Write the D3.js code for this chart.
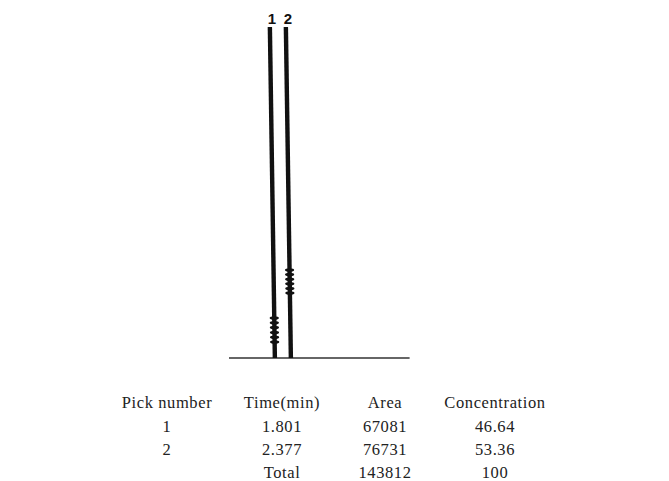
<!DOCTYPE html>
<html><head><meta charset="utf-8">
<script src="https://cdn.jsdelivr.net/npm/d3@7"></script>
<style>body{margin:0;background:#fff}</style>
</head><body>
<svg id="c" width="669" height="481"></svg>
<script>
// Data
const peakLabels = ["1", "2"];
const peakTimes = [1.801, 2.377];          // retention time (min)
const peakHeights = [100, 100];            // off-scale (% full scale)
const markRanges = [[4.8, 12.1], [19.6, 26.6]]; // attenuation marks (% full scale)
const tableHeader = ["Pick number", "Time(min)", "Area", "Concentration"];
const pickNumbers = ["1", "2", ""];
const timeCol = ["1.801", "2.377", "Total"];
const areaCol = ["67081", "76731", "143812"];
const concCol = ["46.64", "53.36", "100"];

const svg = d3.select("#c");
const x = d3.scaleLinear().domain([0.15, 6.65]).range([229, 409.6]);
const y = d3.scaleLinear().domain([0, 100]).range([358, 27]);
const lean = 0.18; // pen lean of the recorder trace (min)

// baseline
svg.append("line")
  .attr("x1", x.range()[0]).attr("x2", x.range()[1])
  .attr("y1", y(0)).attr("y2", y(0))
  .attr("stroke", "#333").attr("stroke-width", 1.6);

const line = d3.line().x(d => x(d[0])).y(d => y(d[1]));
peakTimes.forEach((t, i) => {
  const pts = [[t, 0], [t - lean, peakHeights[i]]];
  svg.append("path").attr("d", line(pts))
    .attr("stroke", "#111").attr("stroke-width", 4.4).attr("fill", "none");
  // attenuation marks
  const [a, b] = markRanges[i];
  const n = 6;
  for (let k = 0; k < n; k++) {
    const v = a + (b - a) * k / (n - 1);
    const tx = t - lean * v / peakHeights[i];
    svg.append("ellipse")
      .attr("cx", x(tx)).attr("cy", y(v))
      .attr("rx", 4.6).attr("ry", 1.8).attr("fill", "#111");
  }
  svg.append("text")
    .attr("x", x(t - lean) + 2).attr("y", 24)
    .attr("text-anchor", "middle")
    .attr("font-family", "Liberation Sans, Arial, sans-serif")
    .attr("font-weight", "bold").attr("font-size", 15)
    .attr("fill", "#111")
    .text(peakLabels[i]);
});

// table
const colX = [167, 282, 385, 495];
const rowY = [408, 432, 455, 478];
const cols = [pickNumbers, timeCol, areaCol, concCol];
const tStyle = sel => sel.attr("text-anchor", "middle")
  .attr("font-family", "Liberation Serif, Times New Roman, serif")
  .attr("font-size", 16.5).attr("letter-spacing", 0.6).attr("fill", "#222");
tableHeader.forEach((h, j) => {
  svg.append("text").attr("x", colX[j]).attr("y", rowY[0]).text(h).call(tStyle);
});
cols.forEach((col, j) => {
  col.forEach((v, r) => {
    if (v) svg.append("text").attr("x", colX[j]).attr("y", rowY[r + 1]).text(v).call(tStyle);
  });
});
</script>
</body></html>
